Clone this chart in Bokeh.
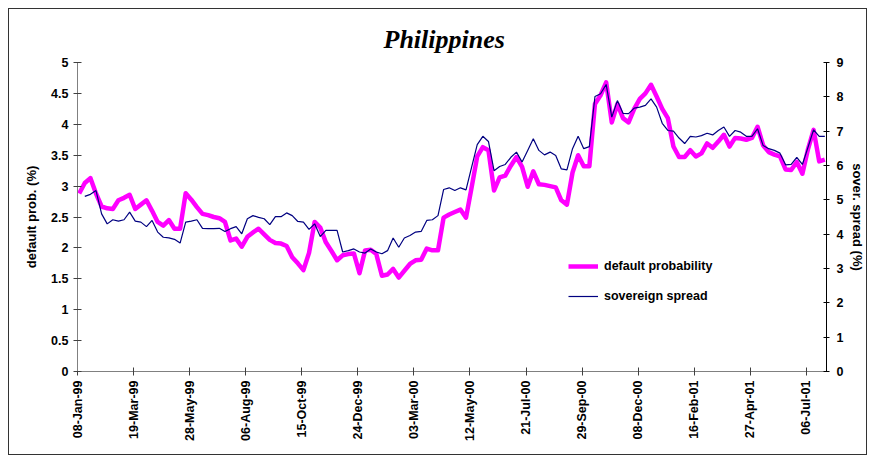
import math
from bokeh.plotting import figure
from bokeh.models import Range1d, LinearAxis, FixedTicker, Legend, LegendItem, Title
from bokeh.embed import file_html
from bokeh.resources import INLINE

# weekly observations, 08-Jan-99 onwards (index = week number)
default_prob = [
    2.88, 3.05, 3.13, 2.88, 2.67, 2.64, 2.63, 2.77, 2.81, 2.86,
    2.63, 2.70, 2.77, 2.60, 2.42, 2.36, 2.45, 2.31, 2.31, 2.885,
    2.78, 2.66, 2.55, 2.53, 2.50, 2.48, 2.42, 2.12, 2.15, 2.02,
    2.18, 2.25, 2.31, 2.22, 2.13, 2.08, 2.07, 2.03, 1.85, 1.75,
    1.64, 1.92, 2.42, 2.33, 2.09, 1.95, 1.80, 1.88, 1.90, 1.91,
    1.59, 1.96, 1.97, 1.90, 1.55, 1.57, 1.66, 1.52, 1.63, 1.74,
    1.80, 1.81, 1.99, 1.96, 1.96, 2.49, 2.54, 2.58, 2.62, 2.49,
    2.98, 3.48, 3.63, 3.58, 2.93, 3.14, 3.17, 3.33, 3.47, 3.31,
    2.99, 3.24, 3.03, 3.02, 3.00, 2.98, 2.77, 2.70, 3.22, 3.50,
    3.32, 3.32, 4.33, 4.47, 4.68, 4.03, 4.33, 4.10, 4.03, 4.25,
    4.41, 4.50, 4.64, 4.45, 4.25, 4.10, 3.64, 3.47, 3.47, 3.58,
    3.48, 3.53, 3.69, 3.62, 3.72, 3.83, 3.64, 3.78, 3.77, 3.75,
    3.78, 3.96, 3.66, 3.55, 3.51, 3.48, 3.27, 3.26, 3.39, 3.20,
    3.60, 3.91, 3.40, 3.43,
]
sovereign_spread = [
    float("nan"), 5.10, 5.16, 5.27, 4.59, 4.30, 4.42, 4.38, 4.42, 4.64,
    4.38, 4.35, 4.22, 4.40, 4.06, 3.91, 3.89, 3.85, 3.74, 4.35,
    4.38, 4.42, 4.17, 4.16, 4.16, 4.17, 4.08, 4.16, 4.22, 4.01,
    4.45, 4.54, 4.49, 4.45, 4.28, 4.51, 4.51, 4.62, 4.54, 4.37,
    4.35, 4.14, 4.30, 3.93, 4.11, 4.11, 4.11, 3.48, 3.52, 3.57,
    3.48, 3.45, 3.57, 3.48, 3.43, 3.52, 3.89, 3.62, 3.89, 3.96,
    4.06, 4.08, 4.40, 4.42, 4.54, 5.30, 5.35, 5.27, 5.35, 5.29,
    5.95, 6.61, 6.85, 6.70, 5.85, 5.97, 6.03, 6.24, 6.39, 6.10,
    6.44, 6.78, 6.44, 6.31, 6.39, 6.29, 5.90, 5.87, 6.49, 6.85,
    6.49, 6.55, 8.01, 8.09, 8.36, 7.41, 7.89, 7.52, 7.51, 7.67,
    7.70, 7.75, 7.94, 7.70, 7.23, 7.02, 7.00, 6.80, 6.64, 6.85,
    6.83, 6.87, 6.94, 6.89, 7.02, 7.12, 6.85, 7.02, 6.97, 6.85,
    6.85, 7.07, 6.58, 6.49, 6.44, 6.36, 6.02, 6.03, 6.24, 6.03,
    6.53, 7.04, 6.85, 6.85,
]
tick_labels = ["08-Jan-99", "19-Mar-99", "28-May-99", "06-Aug-99", "15-Oct-99",
               "24-Dec-99", "03-Mar-00", "12-May-00", "21-Jul-00", "29-Sep-00",
               "08-Dec-00", "16-Feb-01", "27-Apr-01", "06-Jul-01"]
left_ticks = [0, 0.5, 1, 1.5, 2, 2.5, 3, 3.5, 4, 4.5, 5]
right_ticks = [0, 1, 2, 3, 4, 5, 6, 7, 8, 9]

weeks = list(range(len(default_prob)))
tick_pos = [10 * k - 0.3 for k in range(len(tick_labels))]

FONT = "Liberation Sans"
TICK_SIZE = "12.5px"
LABEL_SIZE = "13px"

p = figure(width=859, height=447, output_backend="svg", toolbar_location=None,
           x_range=Range1d(-0.3, 133.3), y_range=Range1d(0, 5),
           min_border_left=68, min_border_right=42, min_border_top=53, min_border_bottom=85)
p.styles = {"border": "1px solid #333333", "margin-left": "8px", "margin-top": "8px"}
p.outline_line_color = None
p.xgrid.visible = False
p.ygrid.visible = False
p.background_fill_color = "white"
p.border_fill_color = "white"

p.title = Title(text="Philippines", align="left", text_font="Liberation Serif",
                text_font_style="bold italic", text_font_size="26px", text_color="black",
                offset=306, standoff=18)

p.extra_y_ranges = {"spread": Range1d(0, 9)}

r1 = p.line(weeks, default_prob, line_color="#FF00FF", line_width=4.5, line_join="round")
r2 = p.line(weeks, sovereign_spread, line_color="#000080", line_width=1.2,
            y_range_name="spread")

xa = p.xaxis[0]
xa.ticker = FixedTicker(ticks=tick_pos)
xa.major_label_overrides = {t: l for t, l in zip(tick_pos, tick_labels)}
xa.major_label_orientation = math.pi / 2
xa.minor_tick_line_color = None
xa.major_tick_in = 4
xa.major_tick_out = 4
xa.axis_line_color = "#808080"
xa.major_tick_line_color = "#404040"
xa.major_label_text_font = FONT
xa.major_label_text_font_style = "bold"
xa.major_label_text_font_size = TICK_SIZE
xa.major_label_text_color = "black"
xa.major_label_standoff = 5

ya = p.yaxis[0]
ya.ticker = FixedTicker(ticks=left_ticks)
ya.major_label_overrides = {t: ("%g" % t) for t in left_ticks}
ya.minor_tick_line_color = None
ya.major_tick_in = 4
ya.major_tick_out = 4
ya.axis_line_color = "#808080"
ya.major_tick_line_color = "#404040"
ya.major_label_text_font = FONT
ya.major_label_text_font_style = "bold"
ya.major_label_text_font_size = TICK_SIZE
ya.major_label_text_color = "black"
ya.major_label_standoff = 5
ya.axis_label = "default prob. (%)"
ya.axis_label_text_font = FONT
ya.axis_label_text_font_style = "bold"
ya.axis_label_text_font_size = LABEL_SIZE
ya.axis_label_text_color = "black"
ya.axis_label_standoff = 9

ra = LinearAxis(y_range_name="spread", ticker=FixedTicker(ticks=right_ticks))
ra.minor_tick_line_color = None
ra.major_tick_in = 3
ra.major_tick_out = 3
ra.axis_line_color = "black"
ra.major_tick_line_color = "black"
ra.major_label_text_font = FONT
ra.major_label_text_font_style = "bold"
ra.major_label_text_font_size = TICK_SIZE
ra.major_label_text_color = "black"
ra.major_label_standoff = 7
ra.axis_label = "sover. spread (%)"
ra.axis_label_text_font = FONT
ra.axis_label_text_font_style = "bold"
ra.axis_label_text_font_size = LABEL_SIZE
ra.axis_label_text_color = "black"
ra.axis_label_standoff = 4
p.add_layout(ra, "right")

legend = Legend(items=[LegendItem(label="default probability", renderers=[r1]),
                       LegendItem(label="sovereign spread", renderers=[r2])],
                location=(491, 65), glyph_width=30, glyph_height=20, label_height=20,
                spacing=10, padding=0, margin=0, label_standoff=6,
                label_text_font=FONT, label_text_font_style="bold",
                label_text_font_size=TICK_SIZE, label_text_color="black",
                border_line_color=None, background_fill_alpha=0)
p.add_layout(legend, "center")

open("out.html", "w").write(file_html(p, INLINE))
